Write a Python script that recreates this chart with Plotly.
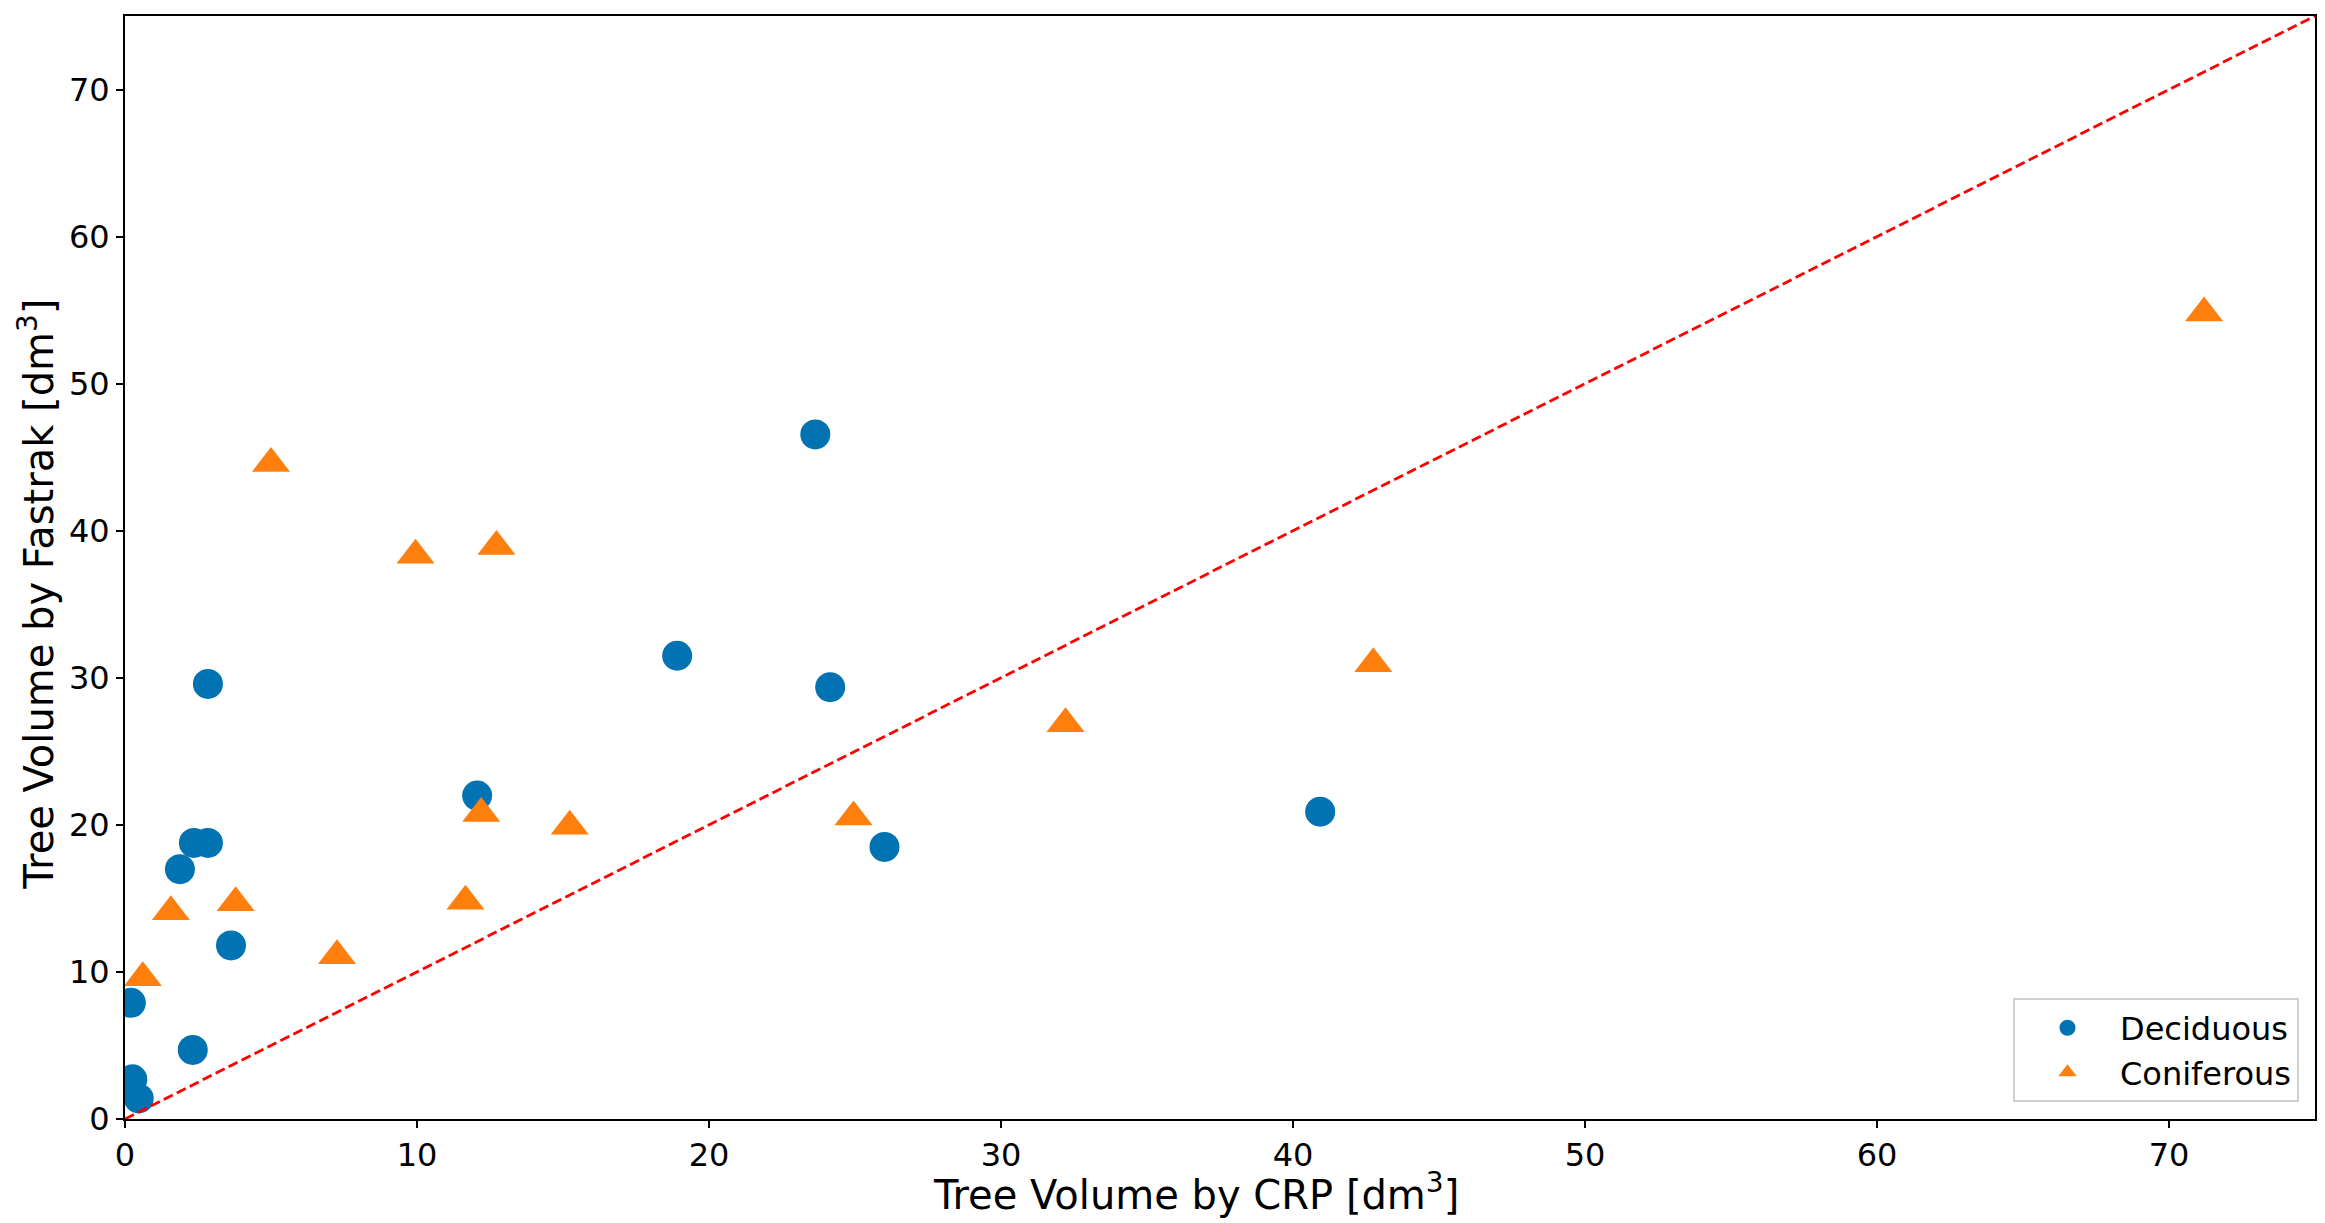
import plotly.graph_objects as go

# Data
deciduous_x = [0.2, 0.25, 0.47, 2.32, 1.88, 2.36, 2.84, 2.84, 3.63, 12.06, 18.91, 23.64, 24.15, 26.01, 40.93]
deciduous_y = [7.9, 2.7, 1.4, 4.7, 16.99, 18.77, 18.77, 29.58, 11.8, 21.99, 31.5, 46.55, 29.36, 18.5, 20.9]

coniferous_x = [0.61, 1.57, 3.79, 5.0, 7.26, 9.95, 11.66, 12.2, 12.72, 15.23, 24.95, 32.21, 42.75, 71.2]
coniferous_y = [9.6, 14.1, 14.7, 44.57, 11.1, 38.34, 14.8, 20.77, 38.93, 19.9, 20.54, 26.88, 30.95, 54.8]

identity_x = [0, 75]
identity_y = [0, 75]

axis_range = [0, 75]
tick_vals = [0, 10, 20, 30, 40, 50, 60, 70]

x_title = "Tree Volume by CRP [dm<sup>3</sup>]"
y_title = "Tree Volume by Fastrak [dm<sup>3</sup>]"

FONT = "DejaVu Sans"

fig = go.Figure()

fig.add_trace(go.Scatter(
    x=deciduous_x, y=deciduous_y, mode="markers", name="Deciduous",
    marker=dict(symbol="circle", size=30, color="#0173B2", line=dict(width=0)),
))
fig.add_trace(go.Scatter(
    x=coniferous_x, y=coniferous_y, mode="markers", name="Coniferous",
    marker=dict(symbol="triangle-up", size=33, color="#FF7F0E", line=dict(width=0)),
))
fig.add_trace(go.Scatter(
    x=identity_x, y=identity_y, mode="lines", showlegend=False,
    line=dict(color="#FF0000", width=2.8, dash="10px,4.5px"),
))

axis_common = dict(
    range=axis_range,
    tickvals=tick_vals,
    showgrid=False,
    zeroline=False,
    showline=True,
    linecolor="#000000",
    linewidth=2,
    mirror=True,
    ticks="outside",
    ticklen=7,
    tickwidth=2,
    tickcolor="#000000",
    tickfont=dict(family=FONT, size=32, color="#000000"),
)

fig.update_layout(
    width=2317,
    height=1215,
    margin=dict(l=117, r=10, t=6, b=104),
    paper_bgcolor="white",
    plot_bgcolor="white",
    font=dict(family=FONT, color="#000000"),
    xaxis=dict(**axis_common),
    yaxis=dict(**axis_common),
    legend=dict(
        x=0.9927, y=0.015, xanchor="right", yanchor="bottom",
        bgcolor="white", bordercolor="#d0d0d0", borderwidth=2,
        font=dict(family=FONT, size=32, color="#000000"),
        itemsizing="trace",
        itemwidth=95,
        tracegroupgap=0,
    ),
    showlegend=True,
    annotations=[
        dict(text=x_title, xref="paper", yref="paper", x=0.4892, y=-0.0662,
             xanchor="center", yanchor="middle", showarrow=False,
             font=dict(family=FONT, size=40, color="#000000")),
        dict(text=y_title, xref="paper", yref="paper", x=-0.0404, y=0.476,
             xanchor="center", yanchor="middle", showarrow=False, textangle=-90,
             font=dict(family=FONT, size=40, color="#000000")),
    ],
)

fig.write_html("out.html")
